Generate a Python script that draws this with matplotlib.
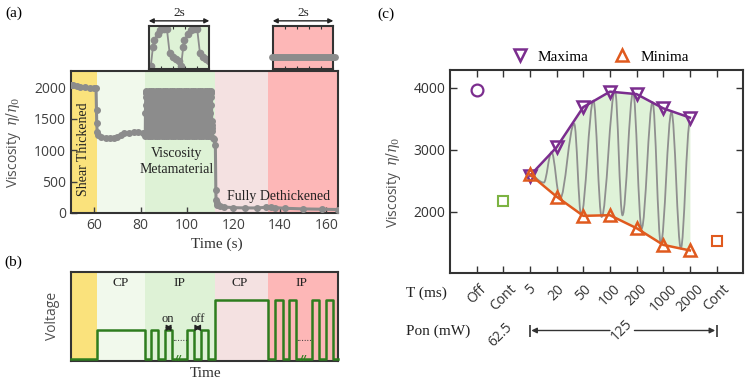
"""
Three-panel figure: viscosity time trace with zoom insets (a), drive voltage
schematic (b), and maxima/minima of viscosity vs pulse period (c).
"""
import numpy as np
import matplotlib
matplotlib.use("Agg")
import matplotlib.pyplot as plt
from matplotlib.path import Path
from matplotlib.patches import PathPatch
from matplotlib.lines import Line2D
import matplotlib.transforms as mtransforms

SANS = "Open Sans"
SERIF = "Liberation Serif"
plt.rcParams["font.family"] = SANS
plt.rcParams["mathtext.fontset"] = "dejavuserif"

# ---------------- data: panel (a) ----------------
region_edges = [50, 61.2, 81.7, 112, 135, 165]
region_colors = ["#fae27c", "#f1f9ec", "#def2d6", "#f4e1e1", "#fdb7b7"]

pre_t = [50, 51, 52.5, 54, 56, 58, 60, 60.8, 61.0, 61.1, 61.3, 61.8, 63, 65,
         67, 68.5, 70, 71.5, 73, 75, 77, 79, 81, 82]
pre_v = [2040, 2030, 2020, 2010, 2000, 1990, 1985, 1995, 1640, 1430, 1290,
         1240, 1210, 1200, 1195, 1195, 1210, 1245, 1270, 1280, 1285, 1285,
         1280, 1270]

# one ~1 s switching cycle (repeated 82-111 s)
cycle_t = [0.00, 0.07, 0.11, 0.22, 0.31, 0.43, 0.53, 0.62, 0.73, 0.83, 0.93]
cycle_v = [1218, 1592, 1720, 1847, 1915, 1932, 1940, 1465, 1396, 1345, 1311]
osc_start = 82
n_cycles = 29

post_t = [111, 111.6, 112.2, 112.4, 112.5, 112.7, 113, 114, 116, 120, 125,
          130, 134, 136, 138, 142, 150, 158, 165]
post_v = [1200, 1170, 1080, 360, 200, 160, 130, 110, 95, 85, 80, 80, 90, 95,
          85, 75, 65, 60, 55]

dethick_level = 65

# ---------------- data: panel (b) ----------------
volt_t = [50, 61.2, 81.7, 84.4, 87.3, 90.5, 93.6, 100.1, 103, 106, 109.1, 112,
          135, 138, 141.2, 143.9, 147, 153.7, 156.8, 159.7, 162.7, 165]
volt_v = [0.015, 0.34, 0.015, 0.34, 0.015, 0.34, 0.015, 0.34, 0.015, 0.34,
          0.015, 0.68, 0.015, 0.68, 0.015, 0.68, 0.015, 0.68, 0.015, 0.68,
          0.015, 0.015]
phase_labels = ["CP", "IP", "CP", "IP"]
phase_x = [71.5, 96.9, 122.8, 149.4]

# ---------------- data: panel (c) ----------------
t_labels = ["Off", "Cont", "5", "20", "50", "100", "200", "1000", "2000", "Cont"]
ext_x = [3, 4, 5, 6, 7, 8, 9]
maxima = [2580, 3040, 3690, 3940, 3900, 3670, 3520]
minima = [2600, 2240, 1930, 1940, 1730, 1460, 1370]
off_x, off_v = 1, 3970
cont_lo_x, cont_lo_v = 2, 2170
cont_hi_x, cont_hi_v = 10, 1530
wave_x = [3.0, 3.52, 3.81, 4.13, 4.66, 4.92, 5.38, 5.69, 6.19, 6.47, 6.87,
          7.19, 7.6, 7.91, 8.31, 8.66, 9.0]
wave_y = [2590, 2468, 2961, 2210, 3419, 1940, 3795, 1913, 3957, 1940, 3930,
          1726, 3768, 1484, 3607, 1403, 3445]

GRAY = "#8c8c8c"
FRAME = "#333333"
PURPLE = "#7b2d8e"
ORANGE = "#e05a1e"
GREEN_SQ = "#7cb342"
VGREEN = "#2e7d1e"

fig = plt.figure(figsize=(7.47, 3.83), dpi=100)


def frame(ax, lw=1.5):
    for s in ax.spines.values():
        s.set_color(FRAME)
        s.set_linewidth(lw)


def shade(ax):
    for i, c in enumerate(region_colors):
        ax.axvspan(region_edges[i], region_edges[i + 1], color=c, lw=0, zorder=0)


# ================= panel (a) =================
ax_a = fig.add_axes([0.0950, 0.4439, 0.3574, 0.3708])
shade(ax_a)
osc_t = [osc_start + k + c for k in range(n_cycles) for c in cycle_t]
osc_v = [v for k in range(n_cycles) for v in cycle_v]
trace_t = pre_t + osc_t + post_t
trace_v = pre_v + osc_v + post_v
ax_a.plot(trace_t, trace_v, color=GRAY, lw=2.2, marker="o", ms=4,
          mec=GRAY, mfc=GRAY, zorder=3)
ax_a.set_xlim(50, 165)
ax_a.set_ylim(0, 2260)
ax_a.set_xticks([60, 80, 100, 120, 140, 160])
ax_a.set_yticks([0, 500, 1000, 1500, 2000])
ax_a.tick_params(direction="in", length=4, labelsize=10, colors="#404040",
                 width=1)
frame(ax_a)
ax_a.set_xlabel("Time (s)", family=SERIF, fontsize=11, color="#333333")
ax_a.xaxis.set_label_coords(0.546, -0.17)
ax_a.set_ylabel(r"Viscosity  $\eta/\eta_0$", fontsize=10, color="#505050")
ax_a.yaxis.set_label_coords(-0.179, 0.5)

ax_a.text(55.4, 1020, "Shear Thickened", rotation=90, ha="center",
          va="center", family=SERIF, fontsize=10, color="#222222", zorder=4)
ax_a.text(95.5, 820, "Viscosity\nMetamaterial", ha="center", va="center",
          family=SERIF, fontsize=10, color="#222222", linespacing=1.3, zorder=4)
ax_a.text(139.4, 266, "Fully Dethickened", ha="center", va="center",
          family=SERIF, fontsize=10, color="#222222", zorder=4)

# insets
ax_i1 = fig.add_axes([0.1991, 0.8198, 0.0811, 0.1123])
ax_i1.set_facecolor(region_colors[2])
in_t = [c + 0.07 + k for k in range(2) for c in cycle_t]
in_v = cycle_v + cycle_v
ax_i1.plot(in_t, in_v, color=GRAY, lw=1.3, marker="o", ms=4.5, mec=GRAY,
           mfc=GRAY)
ax_i1.set_xlim(0, 2)
ax_i1.set_ylim(1150, 2000)

ax_i2 = fig.add_axes([0.3651, 0.8198, 0.0811, 0.1123])
ax_i2.set_facecolor(region_colors[4])
ax_i2.plot([-0.04, 2.04], [dethick_level, dethick_level], color=GRAY, lw=5,
           solid_capstyle="round", clip_on=False, zorder=5)
ax_i2.set_xlim(0, 2)
ax_i2.set_ylim(0, 240)

for axi in (ax_i1, ax_i2):
    frame(axi, 1.5)
    axi.set_xticks([0.4, 0.8, 1.2, 1.6])
    axi.set_yticks([])
    axi.tick_params(direction="in", length=2, top=True, bottom=True,
                    labelbottom=False, color=FRAME)
    axi.annotate("", xy=(0, 1.12), xytext=(2, 1.12),
                 xycoords=("data", "axes fraction"),
                 textcoords=("data", "axes fraction"),
                 arrowprops=dict(arrowstyle="<|-|>", color="#222222", lw=1,
                                 mutation_scale=7, shrinkA=0, shrinkB=0))
    axi.text(1.0, 1.3, "2s", transform=mtransforms.blended_transform_factory(
        axi.transData, axi.transAxes), ha="center", va="center",
        family=SERIF, fontsize=9.5, color="#222222")

# ================= panel (b) =================
ax_b = fig.add_axes([0.0950, 0.0582, 0.3574, 0.2324])
shade(ax_b)
ax_b.step(volt_t, volt_v, where="post", color=VGREEN, lw=1.8, zorder=3,
          clip_on=False)
ax_b.set_xlim(50, 165)
ax_b.set_ylim(0, 1)
ax_b.set_xticks([])
ax_b.set_yticks([])
frame(ax_b)
for lab, x in zip(phase_labels, phase_x):
    ax_b.text(x, 0.87, lab, ha="center", va="center", family=SERIF,
              fontsize=9.5, color="#222222")
ax_b.text(91.6, 0.47, "on", ha="center", va="center", family=SERIF,
          fontsize=9, color="#222222")
ax_b.text(104.8, 0.47, "off", ha="center", va="center", family=SERIF,
          fontsize=9, color="#222222")
for x0, x1 in [(90.5, 93.6), (103.2, 106.0)]:
    ax_b.annotate("", xy=(x0, 0.37), xytext=(x1, 0.37),
                  arrowprops=dict(arrowstyle="<|-|>,head_length=0.35,head_width=0.18",
                                  color="#222222", lw=0.8,
                                  mutation_scale=10, shrinkA=0, shrinkB=0))
for x in (96.9, 150.5):
    ax_b.text(x, 0.245, "......", ha="center", va="center", fontsize=7,
              color="#333333")
for x in (96.5, 150.3):
    ax_b.text(x, 0.02, "//", ha="center", va="center", fontsize=6.5,
              color=VGREEN, fontweight="bold", zorder=4)
ax_b.set_xlabel("Time", family=SERIF, fontsize=11, color="#333333")
ax_b.xaxis.set_label_coords(0.505, -0.07)
ax_b.set_ylabel("Voltage", fontsize=10, color="#505050")
ax_b.yaxis.set_label_coords(-0.041, 0.5)

# ================= panel (c) =================
ax_c = fig.add_axes([0.6024, 0.2864, 0.3918, 0.5308])
ax_c.fill_between(ext_x, minima, maxima, color="#dff2d8", lw=0, zorder=1)
verts = [(wave_x[0], wave_y[0])]
codes = [Path.MOVETO]
for i in range(len(wave_x) - 1):
    dx = wave_x[i + 1] - wave_x[i]
    verts += [(wave_x[i] + 0.36 * dx, wave_y[i]),
              (wave_x[i + 1] - 0.36 * dx, wave_y[i + 1]),
              (wave_x[i + 1], wave_y[i + 1])]
    codes += [Path.CURVE4] * 3
ax_c.add_patch(PathPatch(Path(verts, codes), fill=False, edgecolor="#8f8f8f",
                         lw=1.3, zorder=2))
ax_c.plot(ext_x, maxima, color=PURPLE, lw=1.8, marker="v", ms=9, mfc="none",
          mew=1.8, zorder=4)
ax_c.plot(ext_x, minima, color=ORANGE, lw=1.8, marker="^", ms=9, mfc="none",
          mew=1.8, zorder=4)
ax_c.plot([off_x], [off_v], marker="o", ms=8.5, mfc="none", mec=PURPLE,
          mew=1.6, ls="none")
ax_c.plot([cont_lo_x], [cont_lo_v], marker="s", ms=6.5, mfc="none",
          mec=GREEN_SQ, mew=1.5, ls="none")
ax_c.plot([cont_hi_x], [cont_hi_v], marker="s", ms=6.5, mfc="none",
          mec=ORANGE, mew=1.5, ls="none")
ax_c.set_xlim(0, 10.98)
ax_c.set_ylim(1000, 4290)
ax_c.set_yticks([2000, 3000, 4000])
ax_c.set_xticks(range(1, 11))
ax_c.set_xticklabels(t_labels, rotation=45, ha="center")
ax_c.tick_params(direction="in", length=5, top=True, right=True,
                 labelsize=10, colors="#333333", width=1)
ax_c.tick_params(axis="x", pad=6)
frame(ax_c)
ax_c.set_ylabel(r"Viscosity  $\eta/\eta_0$", fontsize=10, color="#505050")
ax_c.yaxis.set_label_coords(-0.16, 0.45)

handles = [Line2D([], [], marker="v", ls="none", mfc="none", mec=PURPLE,
                  ms=9, mew=1.8, label="Maxima"),
           Line2D([], [], marker="^", ls="none", mfc="none", mec=ORANGE,
                  ms=9, mew=1.8, label="Minima")]
fig.legend(handles=handles, loc="center", bbox_to_anchor=(0.799, 0.852),
           ncol=2, frameon=False, handletextpad=0.2, columnspacing=1.2,
           prop={"family": SERIF, "size": 11})

fig.text(406 / 747, 1 - 293 / 383, "T (ms)", ha="left", va="center",
         family=SERIF, fontsize=11, color="#222222")
fig.text(406 / 747, 1 - 331 / 383, "Pon (mW)", ha="left", va="center",
         family=SERIF, fontsize=11, color="#222222")
row = mtransforms.blended_transform_factory(ax_c.transData, fig.transFigure)
y_row = 1 - 330.5 / 383
ax_c.text(1.9, 1 - 335 / 383, "62.5", transform=row, rotation=45,
          ha="center", va="center", fontsize=10, color="#333333")
ax_c.text(6.45, y_row, "125", transform=row, rotation=45, ha="center",
          va="center", fontsize=10, color="#333333")
for xa, xb in [(6.0, 3.05), (6.92, 9.95)]:
    ax_c.annotate("", xy=(xb, y_row), xytext=(xa, y_row), xycoords=row,
                  textcoords=row, annotation_clip=False,
                  arrowprops=dict(arrowstyle="-|>", color="#333333", lw=1,
                                  mutation_scale=8, shrinkA=0, shrinkB=0))
ax_c.plot([3, 10], [y_row, y_row], transform=row, ls="none", marker="|",
          ms=9, mew=1.2, color="#333333", clip_on=False)

fig.text(5 / 747, 1 - 13 / 383, "(a)", ha="left", va="center", family=SERIF,
         fontsize=11)
fig.text(4 / 747, 1 - 262 / 383, "(b)", ha="left", va="center", family=SERIF,
         fontsize=11)
fig.text(377 / 747, 1 - 14 / 383, "(c)", ha="left", va="center",
         family=SERIF, fontsize=11)

fig.savefig("out.png", dpi=100)
